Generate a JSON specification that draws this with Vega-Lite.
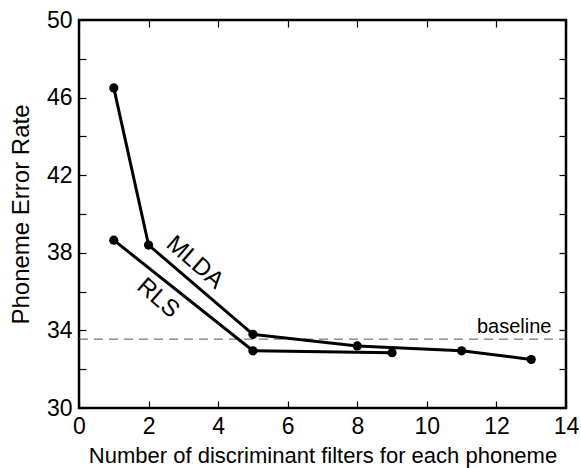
{
  "$schema": "https://vega.github.io/schema/vega-lite/v6.json",
  "width": 487,
  "height": 388,
  "autosize": {"type": "none"},
  "padding": {"left": 79, "top": 20, "right": 15, "bottom": 60},
  "background": "white",
  "config": {
    "view": {"stroke": "black", "strokeWidth": 2.5},
    "font": "Liberation Sans",
    "axis": {"grid": false, "domain": false, "labelFlush": false, "labelOverlap": false, "tickColor": "black", "tickWidth": 1.2, "labelColor": "black", "titleColor": "black", "labelFont": "Liberation Sans", "titleFont": "Liberation Sans", "titleFontWeight": "normal"}
  },
  "datasets": {
    "curves": [
      {"series": "MLDA", "x": 1, "y": 46.5},
      {"series": "MLDA", "x": 2, "y": 38.4},
      {"series": "MLDA", "x": 5, "y": 33.8},
      {"series": "MLDA", "x": 8, "y": 33.2},
      {"series": "MLDA", "x": 11, "y": 32.95},
      {"series": "MLDA", "x": 13, "y": 32.5},
      {"series": "RLS", "x": 1, "y": 38.65},
      {"series": "RLS", "x": 5, "y": 32.95},
      {"series": "RLS", "x": 9, "y": 32.85}
    ],
    "baseline": [
      {"x": 0, "y": 33.55},
      {"x": 14, "y": 33.55}
    ]
  },
  "layer": [
    {
      "data": {"name": "baseline"},
      "mark": {"type": "line", "color": "#555555", "strokeWidth": 1, "strokeDash": [9, 6]},
      "encoding": {
        "x": {"field": "x", "type": "quantitative", "scale": {"domain": [0, 14], "nice": false},
          "axis": {"orient": "bottom", "values": [0, 2, 4, 6, 8, 10, 12, 14], "tickSize": -7, "labelPadding": 14, "labelFontSize": 23, "title": "Number of discriminant filters for each phoneme", "titleFontSize": 22, "titlePadding": 7}},
        "y": {"field": "y", "type": "quantitative", "scale": {"domain": [30, 50], "nice": false, "zero": false},
          "axis": {"orient": "left", "values": [30, 32, 34, 36, 38, 40, 42, 44, 46, 48, 50], "labelExpr": "(datum.value - 30) % 4 == 0 ? datum.label : ''", "tickSize": -7, "labelPadding": 14, "labelFontSize": 23, "title": "Phoneme Error Rate", "titleFontSize": 24, "titlePadding": 13}}
      }
    },
    {
      "data": {"name": "baseline"},
      "mark": {"type": "line", "opacity": 0},
      "encoding": {
        "x": {"field": "x", "type": "quantitative",
          "axis": {"orient": "top", "values": [0, 2, 4, 6, 8, 10, 12, 14], "tickSize": -7, "labels": false, "title": null}},
        "y": {"field": "y", "type": "quantitative",
          "axis": {"orient": "right", "values": [30, 32, 34, 36, 38, 40, 42, 44, 46, 48, 50], "tickSize": -7, "labels": false, "title": null}}
      }
    },
    {
      "data": {"name": "curves"},
      "mark": {"type": "line", "color": "black", "strokeWidth": 3},
      "encoding": {
        "x": {"field": "x", "type": "quantitative", "axis": null},
        "y": {"field": "y", "type": "quantitative", "axis": null},
        "detail": {"field": "series"}
      }
    },
    {
      "data": {"name": "curves"},
      "mark": {"type": "point", "filled": true, "color": "black", "opacity": 1, "size": 85},
      "encoding": {
        "x": {"field": "x", "type": "quantitative", "axis": null},
        "y": {"field": "y", "type": "quantitative", "axis": null}
      }
    },
    {
      "data": {"values": [{"x": 3.33, "y": 37.5, "label": "MLDA"}]},
      "mark": {"type": "text", "fontSize": 24, "angle": 41, "color": "black", "align": "center", "baseline": "middle"},
      "encoding": {
        "x": {"field": "x", "type": "quantitative", "axis": null},
        "y": {"field": "y", "type": "quantitative", "axis": null},
        "text": {"field": "label"}
      }
    },
    {
      "data": {"values": [{"x": 2.27, "y": 35.65, "label": "RLS"}]},
      "mark": {"type": "text", "fontSize": 24, "angle": 41, "color": "black", "align": "center", "baseline": "middle"},
      "encoding": {
        "x": {"field": "x", "type": "quantitative", "axis": null},
        "y": {"field": "y", "type": "quantitative", "axis": null},
        "text": {"field": "label"}
      }
    },
    {
      "data": {"values": [{"x": 12.51, "y": 34.17, "label": "baseline"}]},
      "mark": {"type": "text", "fontSize": 20, "color": "black", "align": "center", "baseline": "middle"},
      "encoding": {
        "x": {"field": "x", "type": "quantitative", "axis": null},
        "y": {"field": "y", "type": "quantitative", "axis": null},
        "text": {"field": "label"}
      }
    }
  ],
  "resolve": {"axis": {"x": "independent", "y": "independent"}}
}
